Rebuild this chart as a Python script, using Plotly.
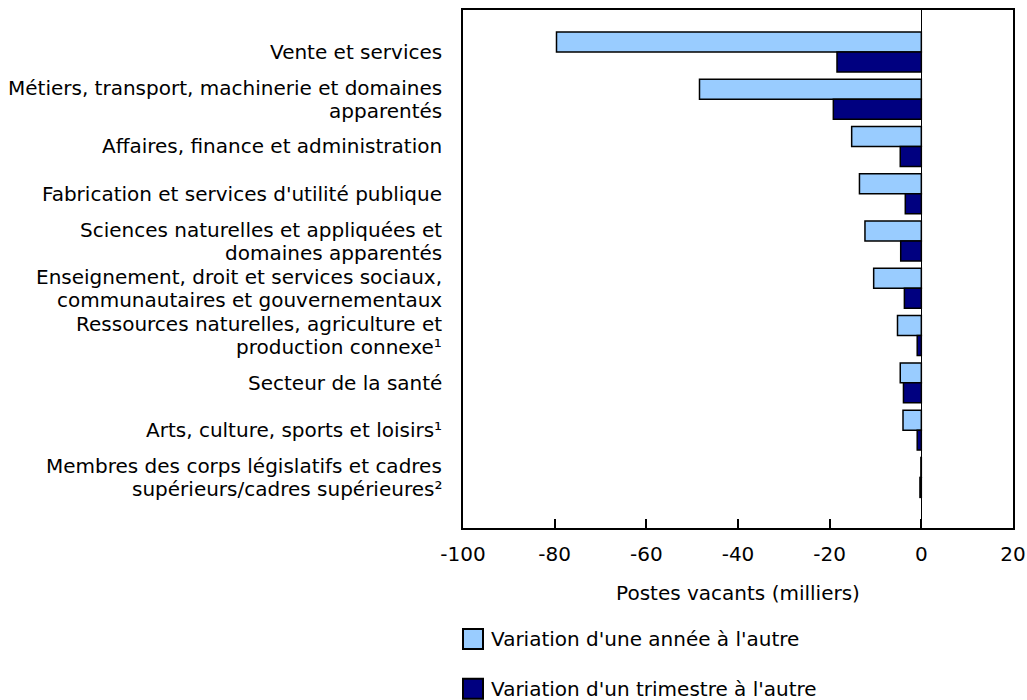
import plotly.graph_objects as go

categories = [
    "Vente et services",
    "Métiers, transport, machinerie et domaines<br>apparentés",
    "Affaires, finance et administration",
    "Fabrication et services d'utilité publique",
    "Sciences naturelles et appliquées et<br>domaines apparentés",
    "Enseignement, droit et services sociaux,<br>communautaires et gouvernementaux",
    "Ressources naturelles, agriculture et<br>production connexe¹",
    "Secteur de la santé",
    "Arts, culture, sports et loisirs¹",
    "Membres des corps législatifs et cadres<br>supérieurs/cadres supérieures²",
]
yoy = [-79.6, -48.4, -15.2, -13.5, -12.3, -10.4, -5.2, -4.6, -4.0, -0.1]
qoq = [-18.4, -19.2, -4.6, -3.5, -4.5, -3.7, -0.9, -3.9, -0.9, -0.3]
series_names = ["Variation d'une année à l'autre", "Variation d'un trimestre à l'autre"]
series_colors = ["#99CCFF", "#000080"]
x_ticks = [-100, -80, -60, -40, -20, 0, 20]

pos = list(range(len(categories)))
font = "DejaVu Sans, Verdana, sans-serif"

W, H = 1027, 700
PL, PR, PT, PB = 463, 1013, 10, 528.5
LINE_H = 23

fig = go.Figure()
for name, vals, col in zip(series_names, [yoy, qoq], series_colors):
    fig.add_trace(go.Bar(
        y=pos, x=vals, orientation="h", name=name, showlegend=False,
        marker=dict(color=col, line=dict(color="black", width=1.5)),
    ))

# category labels: one annotation per line, anchored to the category position
for p, label in zip(pos, categories):
    lines = label.split("<br>")
    n = len(lines)
    for k, line in enumerate(lines):
        fig.add_annotation(
            text=line, xref="paper", yref="y", x=0, y=p,
            xanchor="right", yanchor="middle", xshift=-19,
            yshift=((n - 1) / 2 - k) * LINE_H,
            showarrow=False, font=dict(size=20, color="black", family=font),
        )

def px_to_paper_x(px):
    return (px - PL) / (PR - PL)

def px_to_paper_y(py):
    return (PB - py) / (PB - PT)

# legend: square swatches + text stacked below the axis title
legend_rows = [639.5, 689.5]
for name, col, cy in zip(series_names, series_colors, legend_rows):
    fig.add_shape(
        type="rect", xref="paper", yref="paper",
        x0=px_to_paper_x(463), x1=px_to_paper_x(483),
        y0=px_to_paper_y(cy - 10), y1=px_to_paper_y(cy + 10),
        fillcolor=col, line=dict(color="black", width=2),
    )
    fig.add_annotation(
        text=name, xref="paper", yref="paper",
        x=px_to_paper_x(489), y=px_to_paper_y(cy),
        xanchor="left", yanchor="middle", showarrow=False,
        font=dict(size=20, color="black", family=font),
    )

fig.update_layout(
    width=W, height=H, autosize=False,
    margin=dict(l=PL, r=W - PR, t=PT, b=H - PB, autoexpand=False),
    paper_bgcolor="white", plot_bgcolor="white",
    font=dict(family=font, size=20, color="black"),
    barmode="group", bargap=0.155, bargroupgap=0,
)
fig.update_xaxes(
    range=[-100, 20], tickvals=x_ticks, ticktext=[str(v) for v in x_ticks],
    ticks="inside", ticklen=9, tickwidth=1.5, tickcolor="black",
    showline=True, linecolor="black", linewidth=2, mirror=True,
    showgrid=False, zeroline=True, zerolinecolor="black", zerolinewidth=1,
    ticklabelstandoff=7, automargin=False,
    title=dict(text="Postes vacants (milliers)", standoff=21, font=dict(size=20)),
)
fig.update_yaxes(
    range=[10.07, -0.887], tickvals=pos, showticklabels=False, ticks="",
    showline=True, linecolor="black", linewidth=2, mirror=True,
    showgrid=False, zeroline=False, automargin=False,
)

fig.write_html(
    "out.html",
    config={"displayModeBar": False, "responsive": False},
    post_script="document.body.style.margin='0';document.body.style.overflow='hidden';",
)
